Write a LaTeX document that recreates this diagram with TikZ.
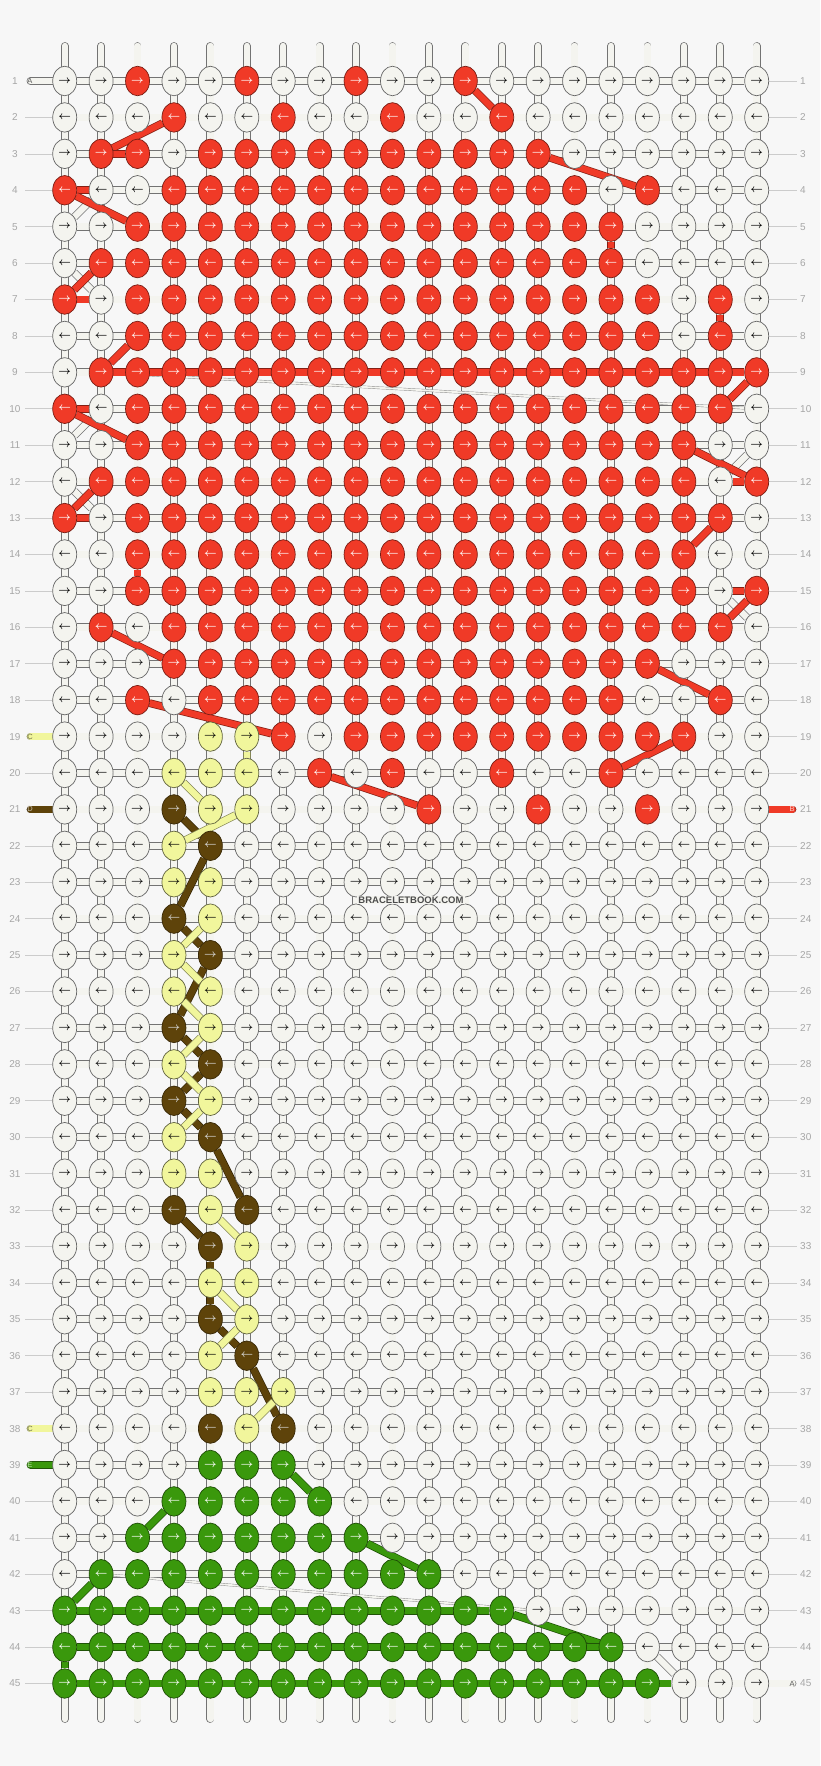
\documentclass[tikz,border=0pt]{standalone}
\usepackage{fontspec}
\setsansfont{Liberation Sans}
\usetikzlibrary{shapes.geometric}

\definecolor{bgc}{HTML}{F7F7F7}
\definecolor{kw}{HTML}{F4F4EF}
\definecolor{kr}{HTML}{F03A27}
\definecolor{ky}{HTML}{F1F69C}
\definecolor{kb}{HTML}{5E430A}
\definecolor{kg}{HTML}{3A980C}

\pgfdeclarelayer{back}
\pgfdeclarelayer{mid}
\pgfsetlayers{back,mid,main}

\begin{document}
\begin{tikzpicture}[
        x=1pt, y=1pt,
        kn/.style={ellipse, minimum width=24pt, minimum height=29.5pt, inner sep=0pt, line width=0.7pt, font=\fontsize{10.5}{10.5}\selectfont\boldmath},
        knw/.style={fill=kw, draw=black!60, text=black},
        knr/.style={fill=kr, draw=kr!50!black, text=white},
        kny/.style={fill=ky, draw=ky!40!black, text=black},
        knb/.style={fill=kb, draw=kb!60!black, text=white!85!black},
        kng/.style={fill=kg, draw=kg!50!black, text=white},
        wstr/.style={draw=black!55, double=kw, line width=0.7pt, double distance=6.4pt},
        cstr/.style={draw=#1!55!black, double=#1, line width=0.7pt, double distance=6.4pt},
        tstr/.style={draw=black!45, double=kw, line width=0.4pt, double distance=1.8pt},
        tick/.style={draw=black!20, line width=0.6pt},
        rownum/.style={font=\sffamily\fontsize{10}{10}\selectfont, text=black!35, inner sep=2pt},
        tag/.style={font=\sffamily\fontsize{7.5}{7.5}\selectfont, inner sep=0pt}
    ]
    \useasboundingbox (0,0) rectangle (820,-1766);

    % Knots, row by row
    \foreach \r/\cl in {
        1/{w,w,r,w,w, r,w,w,r,w, w,r,w,w,w, w,w,w,w,w},
        2/{w,w,w,r,w, w,r,w,w,r, w,w,r,w,w, w,w,w,w,w},
        3/{w,r,r,w,r, r,r,r,r,r, r,r,r,r,w, w,w,w,w,w},
        4/{r,w,w,r,r, r,r,r,r,r, r,r,r,r,r, w,r,w,w,w},
        5/{w,w,r,r,r, r,r,r,r,r, r,r,r,r,r, r,w,w,w,w},
        6/{w,r,r,r,r, r,r,r,r,r, r,r,r,r,r, r,w,w,w,w},
        7/{r,w,r,r,r, r,r,r,r,r, r,r,r,r,r, r,r,w,r,w},
        8/{w,w,r,r,r, r,r,r,r,r, r,r,r,r,r, r,r,w,r,w},
        9/{w,r,r,r,r, r,r,r,r,r, r,r,r,r,r, r,r,r,r,r},
        10/{r,w,r,r,r, r,r,r,r,r, r,r,r,r,r, r,r,r,r,w},
        11/{w,w,r,r,r, r,r,r,r,r, r,r,r,r,r, r,r,r,w,w},
        12/{w,r,r,r,r, r,r,r,r,r, r,r,r,r,r, r,r,r,w,r},
        13/{r,w,r,r,r, r,r,r,r,r, r,r,r,r,r, r,r,r,r,w},
        14/{w,w,r,r,r, r,r,r,r,r, r,r,r,r,r, r,r,r,w,w},
        15/{w,w,r,r,r, r,r,r,r,r, r,r,r,r,r, r,r,r,w,r},
        16/{w,r,w,r,r, r,r,r,r,r, r,r,r,r,r, r,r,r,r,w},
        17/{w,w,w,r,r, r,r,r,r,r, r,r,r,r,r, r,r,w,w,w},
        18/{w,w,r,w,r, r,r,r,r,r, r,r,r,r,r, r,w,w,r,w},
        19/{w,w,w,w,y, y,r,w,r,r, r,r,r,r,r, r,r,r,w,w},
        20/{w,w,w,y,y, y,w,r,w,r, w,w,r,w,w, r,w,w,w,w},
        21/{w,w,w,b,y, y,w,w,w,w, r,w,w,r,w, w,r,w,w,w},
        22/{w,w,w,y,b, w,w,w,w,w, w,w,w,w,w, w,w,w,w,w},
        23/{w,w,w,y,y, w,w,w,w,w, w,w,w,w,w, w,w,w,w,w},
        24/{w,w,w,b,y, w,w,w,w,w, w,w,w,w,w, w,w,w,w,w},
        25/{w,w,w,y,b, w,w,w,w,w, w,w,w,w,w, w,w,w,w,w},
        26/{w,w,w,y,y, w,w,w,w,w, w,w,w,w,w, w,w,w,w,w},
        27/{w,w,w,b,y, w,w,w,w,w, w,w,w,w,w, w,w,w,w,w},
        28/{w,w,w,y,b, w,w,w,w,w, w,w,w,w,w, w,w,w,w,w},
        29/{w,w,w,b,y, w,w,w,w,w, w,w,w,w,w, w,w,w,w,w},
        30/{w,w,w,y,b, w,w,w,w,w, w,w,w,w,w, w,w,w,w,w},
        31/{w,w,w,y,y, w,w,w,w,w, w,w,w,w,w, w,w,w,w,w},
        32/{w,w,w,b,y, b,w,w,w,w, w,w,w,w,w, w,w,w,w,w},
        33/{w,w,w,w,b, y,w,w,w,w, w,w,w,w,w, w,w,w,w,w},
        34/{w,w,w,w,y, y,w,w,w,w, w,w,w,w,w, w,w,w,w,w},
        35/{w,w,w,w,b, y,w,w,w,w, w,w,w,w,w, w,w,w,w,w},
        36/{w,w,w,w,y, b,w,w,w,w, w,w,w,w,w, w,w,w,w,w},
        37/{w,w,w,w,y, y,y,w,w,w, w,w,w,w,w, w,w,w,w,w},
        38/{w,w,w,w,b, y,b,w,w,w, w,w,w,w,w, w,w,w,w,w},
        39/{w,w,w,w,g, g,g,w,w,w, w,w,w,w,w, w,w,w,w,w},
        40/{w,w,w,g,g, g,g,g,w,w, w,w,w,w,w, w,w,w,w,w},
        41/{w,w,g,g,g, g,g,g,g,w, w,w,w,w,w, w,w,w,w,w},
        42/{w,g,g,g,g, g,g,g,g,g, g,w,w,w,w, w,w,w,w,w},
        43/{g,g,g,g,g, g,g,g,g,g, g,g,g,w,w, w,w,w,w,w},
        44/{g,g,g,g,g, g,g,g,g,g, g,g,g,g,g, g,w,w,w,w},
        45/{g,g,g,g,g, g,g,g,g,g, g,g,g,g,g, g,g,w,w,w}}{
        \ifodd\r\relax \def\arr{\rightarrow}\else \def\arr{\leftarrow}\fi
        \foreach \c [count=\i] in \cl
            \node [kn, kn\c] (k-\r-\i) at ({64.7+36.42*(\i-1)}, {-81-36.42*(\r-1)}) {$\arr$};
    }

    % String ends and label anchors
    \foreach \i in {1,...,20} {
        \coordinate (t-\i) at ({64.7+36.42*(\i-1)}, -46);
        \coordinate (u-\i) at ({64.7+36.42*(\i-1)}, -1719);
    }
    \foreach \r in {1,...,45} {
        \coordinate (la-\r) at (25, {-81-36.42*(\r-1)});
        \coordinate (ra-\r) at (797, {-81-36.42*(\r-1)});
        \coordinate (sl-\r) at (30.5, {-81-36.42*(\r-1)});
        \coordinate (sr-\r) at (792.5, {-81-36.42*(\r-1)});
        \node [rownum] (ln-\r) at (15, {-81-36.42*(\r-1)}) {\r};
        \node [rownum, anchor=west] (rn-\r) at (798, {-81-36.42*(\r-1)}) {\r};
    }

    % Base strings and row threads
    \begin{pgfonlayer}{back}
        \fill [bgc] (0,0) rectangle (820,-1766);
        \foreach \i in {1,...,20}
            \draw [wstr, line cap=round] (t-\i) -- (u-\i);
        \foreach \r in {1,...,45}
            \draw [wstr] (k-\r-1) -- (k-\r-20);
        \foreach \r in {2,...,18,20,22,23,...,37,40,41,...,45}
            \draw [tick] (la-\r) -- (k-\r-1);
        \foreach \r in {1,...,20,22,23,...,44}
            \draw [tick] (k-\r-20) -- (ra-\r);
    \end{pgfonlayer}

    \begin{pgfonlayer}{mid}
        % white turns and carried threads
        \foreach \a/\b in {4-2/5-1, 6-1/7-2, 10-2/11-1, 12-1/13-2, 11-20/12-19, 15-19/16-20, 44-17/45-18}
            \draw [wstr] (k-\a) -- (k-\b);
        \draw [tstr] (k-9-2) -- (k-10-20);
        \draw [tstr] (k-42-2) -- (k-43-14);

        % red thread
        \foreach \a/\b in {1-12/2-13, 2-4/3-2, 3-2/3-3, 3-14/4-17, 4-1/4-2, 4-1/5-3,
                5-16/6-16, 6-2/7-1, 7-1/7-2, 7-19/8-19, 8-3/9-2, 9-2/9-20, 9-20/10-19,
                10-1/10-2, 10-1/11-3, 11-18/12-20, 12-19/12-20, 12-2/13-1, 13-1/13-2,
                13-19/14-18, 14-3/15-3, 15-19/15-20, 15-20/16-19, 16-2/17-4,
                17-17/18-19, 18-3/19-7, 19-18/20-16, 20-8/21-11}
            \draw [cstr=kr] (k-\a) -- (k-\b);

        % brown thread
        \foreach \a/\b in {21-4/22-5, 22-5/24-4, 24-4/25-5, 25-5/27-4, 27-4/28-5, 28-5/29-4,
                29-4/30-5, 30-5/32-6, 32-4/33-5, 33-5/35-5, 35-5/36-6, 36-6/38-7}
            \draw [cstr=kb] (k-\a) -- (k-\b);

        % yellow thread
        \foreach \a/\b in {19-6/20-6, 20-4/21-5, 21-6/22-4, 24-5/25-4, 25-4/26-5, 26-4/27-5,
                27-5/28-4, 28-4/29-5, 29-5/30-4, 32-5/33-6, 34-5/35-6, 35-6/36-5, 37-7/38-6}
            \draw [cstr=ky] (k-\a) -- (k-\b);

        % green thread
        \foreach \a/\b in {39-7/40-8, 40-4/41-3, 41-9/42-11, 42-2/43-1, 43-1/43-13,
                43-13/44-16, 44-1/44-16, 44-1/45-1, 45-1/45-18}
            \draw [cstr=kg] (k-\a) -- (k-\b);

        % loose ends
        \draw [wstr, line cap=round] (sl-1) -- (k-1-1);
        \draw [cstr=ky, line cap=round] (sl-19) -- (k-19-1);
        \draw [cstr=kb, line cap=round] (sl-21) -- (k-21-1);
        \draw [cstr=ky, line cap=round] (sl-38) -- (k-38-1);
        \draw [cstr=kg, line cap=round] (sl-39) -- (k-39-1);
        \draw [cstr=kr, line cap=round] (k-21-20) -- (sr-21);
        \draw [wstr, line cap=round] (k-45-20) -- (sr-45);
    \end{pgfonlayer}

    % Thread letters
    \node [tag, text=black!65] (ta-1) at (30,-81) {A};
    \node [tag, text=ky!45!black] (tc-19) at (30,-736.6) {C};
    \node [tag, text=kb!35!white] (td-21) at (30,-809.4) {D};
    \node [tag, text=ky!45!black] (tc-38) at (30,-1428.6) {C};
    \node [tag, text=kg!35!white] (te-39) at (30,-1465) {E};
    \node [tag, text=kr!25!white] (tb-21) at (792,-809.4) {B};
    \node [tag, text=black!65] (ta-45) at (792,-1683.5) {A};

    % Watermark
    \node [font=\sffamily\bfseries\fontsize{9.5}{9.5}\selectfont, text=black!70, fill=kw, inner sep=1pt] (wm) at (411,-900) {BRACELETBOOK.COM};

\end{tikzpicture}
\end{document}
